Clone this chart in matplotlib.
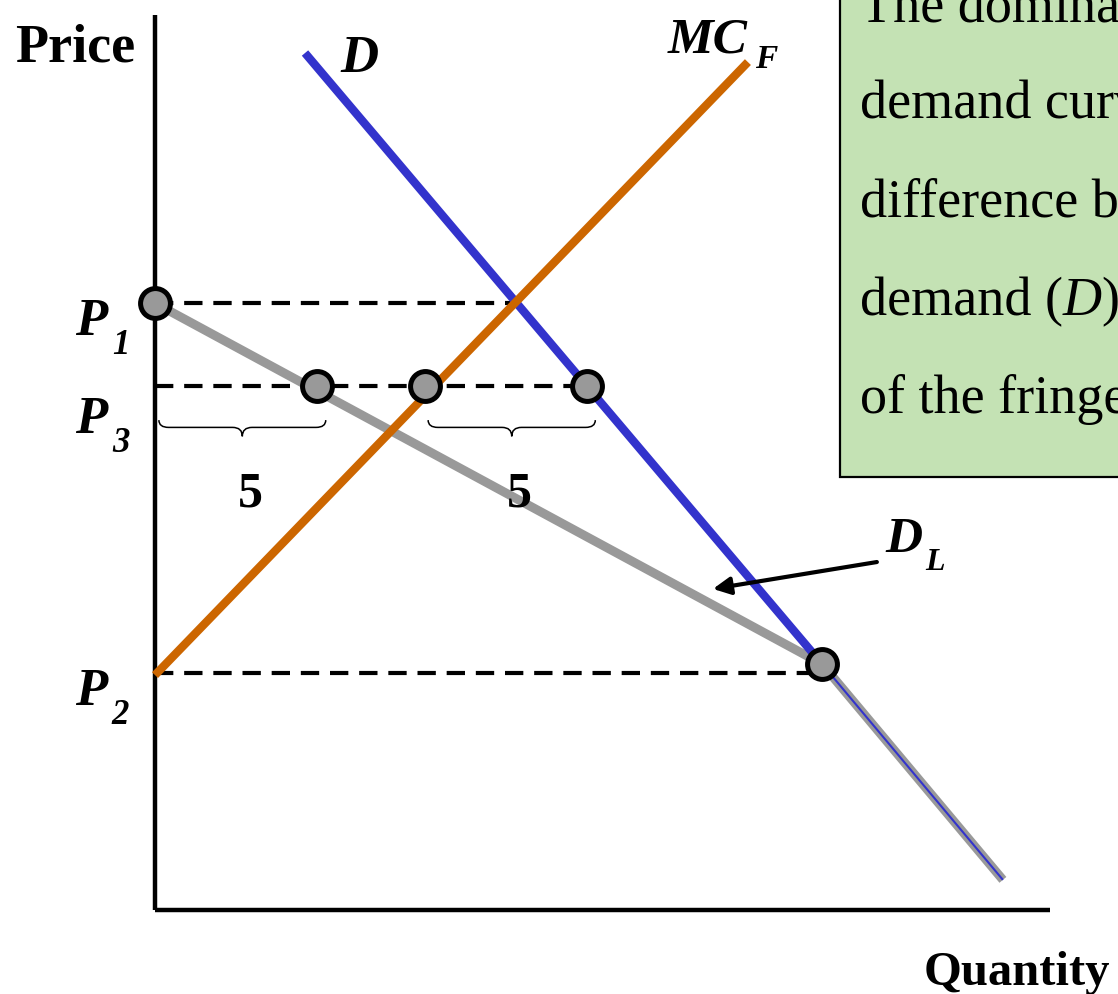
import matplotlib.pyplot as plt
from matplotlib.patches import Rectangle
from matplotlib.path import Path
from matplotlib.patches import PathPatch

SERIF = ["Liberation Serif", "DejaVu Serif"]

# price levels
P1 = 18.73
P3 = 16.17
P2 = 7.31

# market demand D (top point, kink with D_L, bottom end)
D_x = [4.63, 20.59, 26.17]
D_y = [26.45, 7.59, 0.93]

# fringe supply MC_F
MC_x = [0.0, 18.30]
MC_y = [7.25, 26.17]

# dominant firm demand D_L
DL_x = [0.0, 20.59, 26.17]
DL_y = [P1, 7.59, 0.93]

# dashed price lines: (price, end quantity)
dash_p = [P1, P3, P2]
dash_end = [11.1, 13.33, 20.2]

# highlighted points
pt_x = [0.0, 5.0, 8.33, 13.33, 20.59]
pt_y = [P1, P3, P3, P3, 7.59]

# braces under P3 line: (start, end)
braces = [(0.12, 5.27), (8.43, 13.59)]
brace_label = ["5", "5"]

box_lines = ["The dominant firm\u2019s", "demand curve is the",
             "difference between market", None, "of the fringe firms."]

W, H = 1118, 994
UNIT = 32.4  # pixels per data unit

fig = plt.figure(figsize=(W / 100, H / 100), dpi=100)
ax = fig.add_axes([155 / W, (H - 910) / H, 895 / W, 895 / H])
ax.set_xlim(0, 895 / UNIT)
ax.set_ylim(0, 895 / UNIT)
for s in ["top", "right"]:
    ax.spines[s].set_visible(False)
for s in ["left", "bottom"]:
    ax.spines[s].set_linewidth(3.2)
    ax.spines[s].set_capstyle("butt")
ax.set_xticks([])
ax.set_yticks([])
ax.patch.set_alpha(0)

# dashed lines
for p, e in zip(dash_p, dash_end):
    ax.plot([0, e], [p, p], color="black", lw=3, dashes=(4.4, 2.6),
            solid_capstyle="butt", dash_capstyle="butt", zorder=2, clip_on=False)

# demand
ax.plot(D_x[:2], D_y[:2], color="#3333CC", lw=6, solid_capstyle="butt", zorder=3)
ax.plot(D_x[1:], D_y[1:], color="#3333CC", lw=1.5, solid_capstyle="butt", zorder=3)
# supply of fringe
ax.plot(MC_x, MC_y, color="#CC6600", lw=6, solid_capstyle="butt", zorder=3, clip_on=False)
# dominant firm demand
ax.plot(DL_x, DL_y, color="#999999", lw=6.5, solid_capstyle="butt",
        solid_joinstyle="miter", zorder=2.5, clip_on=False)

ax.plot(pt_x, pt_y, ls="none", marker="o", ms=21.5, mfc="#999999", mec="black",
        mew=3.6, zorder=5, clip_on=False)


def brace(x0, x1, y, depth):
    xm = (x0 + x1) / 2
    r = 0.3
    h1 = depth * 0.45
    verts = [(x0, y), (x0, y - h1), (x0 + r, y - h1),
             (xm - r, y - h1), (xm, y - h1), (xm, y - depth),
             (xm, y - h1), (xm + r, y - h1),
             (x1 - r, y - h1), (x1, y - h1), (x1, y)]
    codes = [Path.MOVETO, Path.CURVE3, Path.CURVE3,
             Path.LINETO, Path.CURVE3, Path.CURVE3,
             Path.CURVE3, Path.CURVE3,
             Path.LINETO, Path.CURVE3, Path.CURVE3]
    ax.add_patch(PathPatch(Path(verts, codes), fill=False, lw=1.1,
                           edgecolor="black", zorder=4, clip_on=False))
    return xm


for (b0, b1), lab in zip(braces, brace_label):
    xm = brace(b0, b1, P3 - 1.05, 0.5)
    ax.text(xm + 0.25, P3 - 3.35, lab, family=SERIF, weight="bold", fontsize=36,
            ha="center", va="center")

# arrow to D_L
ax.annotate("", xy=(17.22, 9.91), xytext=(22.28, 10.74),
            arrowprops=dict(arrowstyle="-|>", lw=3, color="black",
                            mutation_scale=26, shrinkA=0, shrinkB=0))

# labels
bi = dict(family=SERIF, weight="bold", style="italic", color="black",
          ha="left", va="baseline", clip_on=False)

ax.text(-2.47, 17.75, "P", fontsize=38, **bi)
ax.text(-1.33, 17.16, "1", fontsize=25, **bi)
ax.text(-2.47, 14.72, "P", fontsize=38, **bi)
ax.text(-1.33, 14.13, "3", fontsize=25, **bi)
ax.text(-2.47, 6.33, "P", fontsize=38, **bi)
ax.text(-1.33, 5.74, "2", fontsize=25, **bi)
ax.text(22.53, 11.05, "D", fontsize=37, **bi)
ax.text(23.77, 10.49, "L", fontsize=23, **bi)
ax.text(5.71, 25.86, "D", fontsize=38, **bi)
ax.text(15.83, 26.48, "MC", fontsize=37, **bi)
ax.text(18.52, 25.99, "F", fontsize=24, **bi)

fig.text(75 / W, 1 - 48 / H, "Price", family=SERIF, weight="bold", fontsize=39,
         ha="center", va="center")
fig.text(1110 / W, 1 - 985 / H, "Quantity", family=SERIF, weight="bold", fontsize=35,
         ha="right", va="baseline")

# explanation box (clipped at right edge)
fig.patches.append(Rectangle((840 / W, 1 - 477 / H), 400 / W, 520 / H,
                             transform=fig.transFigure, facecolor="#C4E2B4",
                             edgecolor="black", lw=1.6, zorder=-1))
baselines = [22, 118, 217, 315, 413]
for line, b in zip(box_lines, baselines):
    if line is not None:
        fig.text(860 / W, 1 - b / H, line, family=SERIF, fontsize=39,
                 ha="left", va="baseline")
    else:
        t1 = fig.text(860 / W, 1 - b / H, "demand (", family=SERIF, fontsize=39,
                      ha="left", va="baseline")
        t2 = ax.annotate("D", xy=(1, 0), xycoords=t1, family=SERIF, style="italic",
                         fontsize=39, ha="left", va="bottom", annotation_clip=False)
        ax.annotate(") and the supply", xy=(1, 0), xycoords=t2, family=SERIF,
                    fontsize=39, ha="left", va="bottom", annotation_clip=False)

fig.savefig("out.png", dpi=100)
